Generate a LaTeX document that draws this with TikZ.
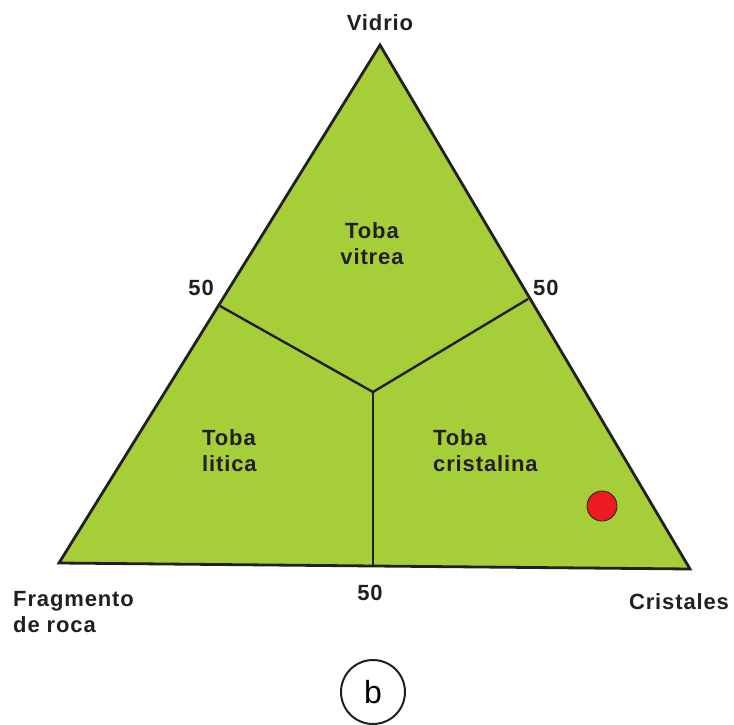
\documentclass[tikz,border=0pt]{standalone}
\usepackage{fontspec}
\newfontfamily\labfont[LetterSpace=4]{Liberation Sans}
\definecolor{tgreen}{HTML}{A6CE39}
\definecolor{tred}{HTML}{ED1C24}
\definecolor{ink}{HTML}{231F20}
\begin{document}
\begin{tikzpicture}[x=1pt,y=-1pt,
  lab/.style={font=\labfont\bfseries\fontsize{22}{26}\selectfont, text=ink, inner sep=0pt},
  edge/.style={draw=ink, line width=2.8pt, line join=miter},
  divline/.style={draw=ink, line width=2.4pt}]
\useasboundingbox (0,0) rectangle (734,725);
\coordinate (V) at (380,45);
\coordinate (F) at (59,563);
\coordinate (C) at (690,569);
\coordinate (mL) at (220,306);
\coordinate (mR) at (528,299);
\coordinate (mB) at (373,566);
\coordinate (O) at (373,392);
\fill[tgreen] (V) -- (F) -- (C) -- cycle;
\draw[divline] (mL) -- (O) -- (mR);
\draw[divline] (O) -- (mB);
\draw[edge] (V) -- (F) -- (C) -- cycle;
\node[lab] (vid) at (380,23) {Vidrio};
\node[lab, anchor=east] (l50) at (214,288) {50};
\node[lab, anchor=west] (r50) at (533,288) {50};
\node[lab] (b50) at (370,593) {50};
\node[lab, anchor=north west, align=left] (frag) at (13,591) {Fragmento\\de roca};
\node[lab] (cri) at (679,602) {Cristales};
\node[lab, align=center] (tv) at (372,244) {Toba\\vitrea};
\node[lab, anchor=north west, align=left] (tl) at (202,429) {Toba\\litica};
\node[lab, anchor=north west, align=left] (tc) at (433,429) {Toba\\cristalina};
\node[circle, fill=tred, draw=ink, line width=0.8pt, minimum size=30pt, inner sep=0pt] (dot) at (602,506) {};
\node[circle, draw=ink, line width=2pt, minimum size=64pt, inner sep=0pt, font=\fontspec{Liberation Sans}\fontsize{32}{32}\selectfont] (bb) at (373,692) {b};
\end{tikzpicture}
\end{document}
